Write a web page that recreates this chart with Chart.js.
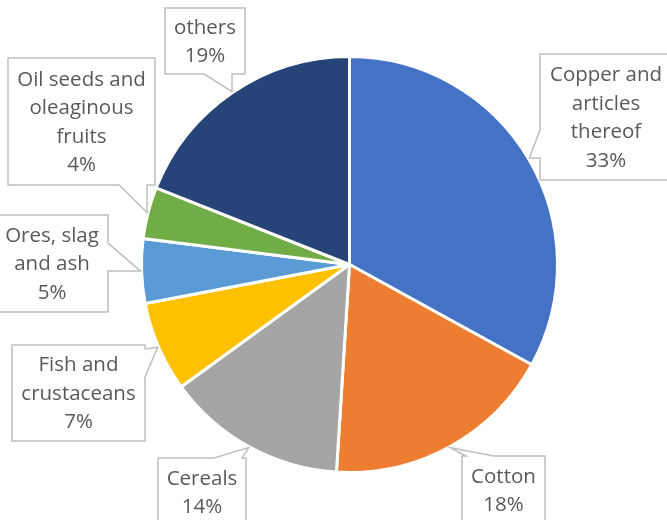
<!DOCTYPE html>
<html>
<head>
<meta charset="utf-8">
<script src="https://cdn.jsdelivr.net/npm/chart.js@4.4.1/dist/chart.umd.min.js"></script>
<style>
	html, body { margin: 0; padding: 0; background: #fff; }
	#wrap { width: 667px; height: 520px; }
</style>
</head>
<body>
<div id="wrap"><canvas id="pie-chart" width="667" height="520"></canvas></div>
<script>
const categories = ['Copper and articles thereof', 'Cotton', 'Cereals', 'Fish and crustaceans', 'Ores, slag and ash', 'Oil seeds and oleaginous fruits', 'others'];
const shares = [33, 18, 14, 7, 5, 4, 19];
const sliceColors = ['#4472C4', '#ED7D31', '#A5A5A5', '#FFC000', '#5B9BD5', '#70AD47', '#264478'];
// how each callout text is broken into lines
const labelLines = [
	['Copper and', 'articles', 'thereof'],
	['Cotton'],
	['Cereals'],
	['Fish and', 'crustaceans'],
	['Ores, slag', 'and ash'],
	['Oil seeds and', 'oleaginous', 'fruits'],
	['others'],
];
// callout boxes [x, y, w, h]
const calloutBoxes = [
	[540, 54, 132, 126],
	[462, 456, 83, 68],
	[158, 458, 88, 68],
	[12, 345, 133, 96],
	[-4, 215, 112, 97],
	[8, 58, 147, 127],
	[165, 8, 80, 66],
];

const calloutPlugin = {
	id: 'callouts',
	afterDraw(chart) {
		const ctx = chart.ctx;
		const meta = chart.getDatasetMeta(0);
		ctx.save();
		ctx.font = '20.5px "Open Sans", sans-serif';
		ctx.textAlign = 'center';
		ctx.textBaseline = 'middle';
		meta.data.forEach((arc, i) => {
			const {x, y, startAngle, endAngle, outerRadius} = arc.getProps(['x', 'y', 'startAngle', 'endAngle', 'outerRadius'], true);
			const mid = (startAngle + endAngle) / 2;
			const tx = x + Math.cos(mid) * (outerRadius + 1);
			const ty = y + Math.sin(mid) * (outerRadius + 1);
			const [bx, by, bw, bh] = calloutBoxes[i];
			const wedge = 28;
			let side;
			if (ty < by) side = 'top';
			else if (ty > by + bh) side = 'bottom';
			else side = tx < bx ? 'left' : 'right';

			let b1, b2;
			if (side === 'top' || side === 'bottom') {
				const p = Math.min(Math.max(tx, bx + 4), bx + bw - 4);
				b1 = p; b2 = p < bx + bw / 2 ? p + wedge : p - wedge;
			} else {
				const p = Math.min(Math.max(ty, by + 4), by + bh - 4);
				b1 = p; b2 = p < by + bh / 2 ? p + wedge : p - wedge;
			}
			const lo = Math.min(b1, b2), hi = Math.max(b1, b2);

			const pts = [[bx, by]];
			if (side === 'top') pts.push([lo, by], [tx, ty], [hi, by]);
			pts.push([bx + bw, by]);
			if (side === 'right') pts.push([bx + bw, lo], [tx, ty], [bx + bw, hi]);
			pts.push([bx + bw, by + bh]);
			if (side === 'bottom') pts.push([hi, by + bh], [tx, ty], [lo, by + bh]);
			pts.push([bx, by + bh]);
			if (side === 'left') pts.push([bx, hi], [tx, ty], [bx, lo]);

			ctx.beginPath();
			pts.forEach(([px, py], k) => k ? ctx.lineTo(px, py) : ctx.moveTo(px, py));
			ctx.closePath();
			ctx.fillStyle = '#FFFFFF';
			ctx.fill();
			ctx.lineWidth = 1.5;
			ctx.strokeStyle = '#BFBFBF';
			ctx.stroke();

			const lines = labelLines[i].concat([shares[i] + '%']);
			const lh = 28.5;
			const cy = by + bh / 2 - (lines.length - 1) * lh / 2 + 1;
			ctx.fillStyle = '#595959';
			lines.forEach((t, k) => ctx.fillText(t, bx + bw / 2, cy + k * lh));
		});
		ctx.restore();
	}
};

new Chart(document.querySelector('#pie-chart'), {
	type: 'pie',
	data: {
		labels: categories,
		datasets: [{
			data: shares,
			backgroundColor: sliceColors,
			borderColor: '#FFFFFF',
			borderWidth: 3,
			hoverOffset: 0,
		}]
	},
	options: {
		responsive: false,
		animation: false,
		layout: {
			padding: {left: 140, right: 108, top: 55, bottom: 46},
		},
		plugins: {
			legend: {display: false},
			tooltip: {enabled: false},
		},
	},
	plugins: [calloutPlugin],
});
</script>
</body>
</html>
